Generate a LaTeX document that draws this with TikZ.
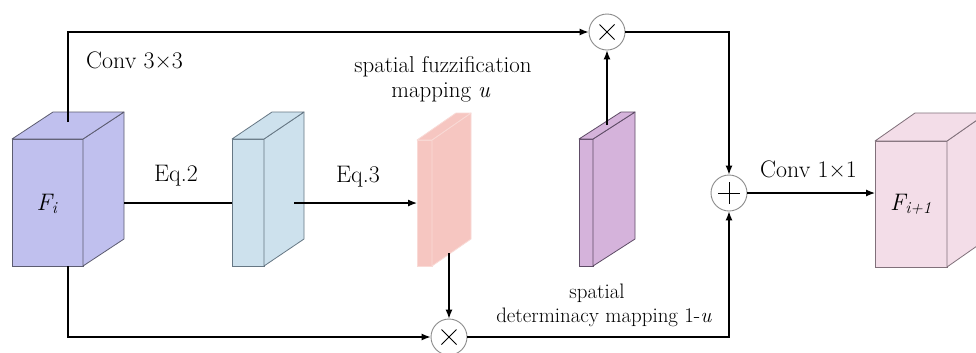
\documentclass[tikz,border=0pt]{standalone}
\usepackage{fontspec}
\usetikzlibrary{arrows.meta}
\definecolor{fiF}{HTML}{C0C0EE}
\definecolor{fiD}{HTML}{5C5C70}
\definecolor{blF}{HTML}{CDE1ED}
\definecolor{blD}{HTML}{667784}
\definecolor{pkF}{HTML}{F6C6C1}
\definecolor{pkD}{HTML}{F9DAD6}
\definecolor{puF}{HTML}{D5B3DB}
\definecolor{puD}{HTML}{5E4C66}
\definecolor{fnF}{HTML}{F3DDE8}
\definecolor{fnD}{HTML}{80707A}
\newcommand{\featbox}[8]{%
  \node[featnode, #8, minimum width=#4bp, minimum height=#5bp, anchor=north west] (#1) at (#2,#3) {};
  \filldraw[featface, #8] (#1.north east) -- ++(#6,-#7) -- ++(0,#5) -- (#1.south east) -- cycle;
  \filldraw[featface, #8] (#1.north west) -- ++(#6,-#7) -- ++(#4,0) -- (#1.north east) -- cycle;
}
\tikzset{
  featnode/.style={rectangle, inner sep=0pt, outer sep=0pt, line width=0.8bp, draw},
  featface/.style={line width=0.8bp, line join=round},
  fiS/.style={fill=fiF, draw=fiD},
  blS/.style={fill=blF, draw=blD},
  pkS/.style={fill=pkF, draw=pkD},
  puS/.style={fill=puF, draw=puD},
  fnS/.style={fill=fnF, draw=fnD},
  conn/.style={line width=1.2bp, draw=black},
  arr/.style={conn, -{Latex[length=9bp,width=7bp]}},
  opnode/.style={circle, draw=black!45, fill=white, line width=0.9bp, minimum size=36bp, inner sep=0pt},
  mulop/.style={opnode, path picture={\draw[line width=1bp, black] (path picture bounding box.center) +(-7.5,-7.5) -- +(7.5,7.5) +(-7.5,7.5) -- +(7.5,-7.5);}},
  addop/.style={opnode, path picture={\draw[line width=1bp, black] (path picture bounding box.center) +(-11,0) -- +(11,0) +(0,-11) -- +(0,11);}},
  lbl/.style={inner sep=0pt, font=\fontsize{24}{26}\selectfont},
  slbl/.style={inner sep=0pt, font=\fontsize{23}{24}\selectfont},
  tlbl/.style={inner sep=0pt, font=\fontsize{21}{24}\selectfont},
  flbl/.style={inner sep=0pt, font=\fontsize{24}{26}\selectfont\itshape},
}
\begin{document}
\begin{tikzpicture}[x=1bp,y=-1bp]
\useasboundingbox (0,0) rectangle (976,352);
\clip (0,0) rectangle (976,352);
\fill[white] (0,0) rectangle (976,352);

% feature blocks
\featbox{Fi}{12}{139}{71}{127}{41}{27}{fiS}
\featbox{B}{232}{139}{32}{127}{40}{27}{blS}
\featbox{P}{417}{140}{15}{126}{39}{27}{pkS}
\featbox{U}{579}{139}{14}{127}{42}{27}{puS}
\featbox{Fn}{875}{141}{72}{126}{40}{28}{fnS}

% operators
\node[mulop] (mt) at (607,32) {};
\node[mulop] (mb) at (449,337) {};
\node[addop] (add) at (729,193) {};

% connector end points
\coordinate (c3) at (68,122);
\coordinate (fb) at (68,266);
\coordinate (fir) at (124,203);
\coordinate (bo) at (294,203);
\coordinate (pk) at (449,253);
\coordinate (pt) at (607,125);

% connectors
\draw[arr] (c3) |- (mt.west);
\draw[arr] (mt.east) -| (add.north);
\draw[arr] (pt) -- (mt.south);
\draw[arr] (fb) |- (mb.west);
\draw[arr] (pk) -- (mb.north);
\draw[arr] (mb.east) -| (add.south);
\draw[conn] (fir) -- (fir -| B.west);
\draw[arr] (bo) -- (bo -| P.west);
\draw[arr] (add.east) -- (add.east -| Fn.west);

% labels
\node[lbl, anchor=base west] (l1) at (86,68) {Conv 3×3};
\node[lbl, anchor=base west] (l2) at (154,181) {Eq.2};
\node[lbl, anchor=base west] (l3) at (336,182) {Eq.3};
\node[lbl, anchor=base west] (l4) at (760,177) {Conv 1×1};
\node[slbl, anchor=base] (s1) at (443,72) {spatial fuzzification};
\node[slbl, anchor=base] (s2) at (441,97) {mapping \textit{u}};
\node[tlbl, anchor=base] (s3) at (597,298) {spatial};
\node[tlbl, anchor=base] (s4) at (604,322) {determinacy mapping 1-\textit{u}};
\node[flbl, anchor=base] (f1) at (47,210) {F\textsubscript{i}};
\node[flbl, anchor=base] (f2) at (911,210) {F\textsubscript{\textup{\itshape i}+1}};
\end{tikzpicture}
\end{document}
